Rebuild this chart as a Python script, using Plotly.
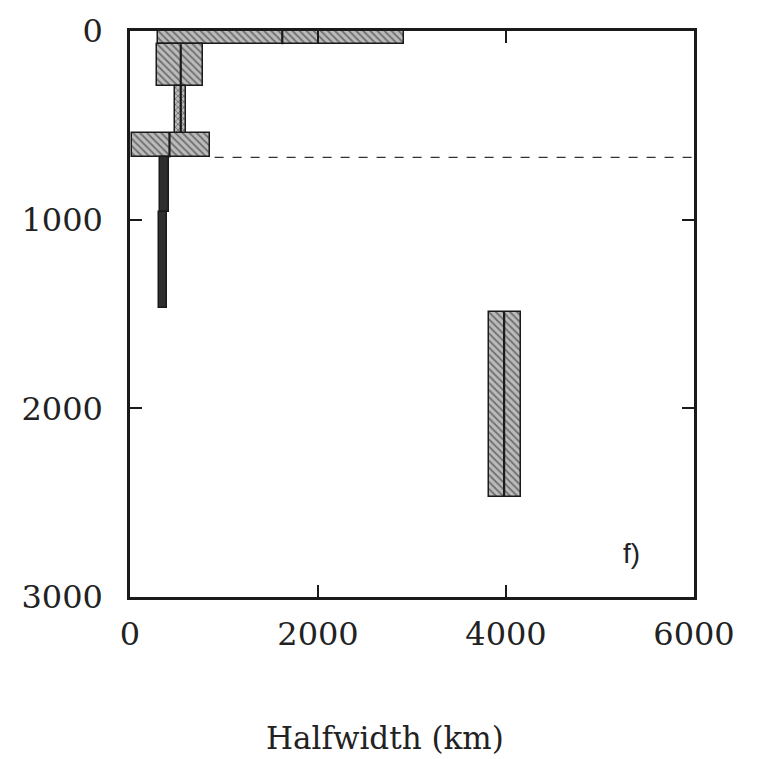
import plotly.graph_objects as go

# Depth layers (km) and the halfwidth estimate with its bounds (km)
layer_top = [0, 70, 290, 540, 670, 960, 1490]
layer_bottom = [70, 290, 540, 670, 960, 1470, 2470]
halfwidth = [1620, 540, 540, 420, 370, 350, 3980]
hw_low = [300, 290, 480, 20, 320, 310, 3820]
hw_high = [2910, 780, 600, 850, 420, 390, 4160]
fill_style = ["hatch", "hatch", "dots", "hatch", "solid", "solid", "hatch"]

transition_depth = 670
transition_start = 900

x_ticks = [0, 2000, 4000, 6000]
y_ticks = [0, 1000, 2000, 3000]

SERIF = "DejaVu Serif"

fig = go.Figure()

styles = {
    "hatch": dict(color="#bcbcbc", pattern=dict(shape="\\", fgcolor="#252525", bgcolor="#bcbcbc",
                                                 size=5, solidity=0.38, fillmode="overlay")),
    "dots": dict(color="#bcbcbc", pattern=dict(shape="x", fgcolor="#252525", bgcolor="#bcbcbc",
                                                size=4, solidity=0.4, fillmode="overlay")),
    "solid": dict(color="#2e2e2e"),
}

for style, spec in styles.items():
    idx = [i for i, s in enumerate(fill_style) if s == style]
    if not idx:
        continue
    fig.add_trace(go.Bar(
        orientation="h",
        y=[(layer_top[i] + layer_bottom[i]) / 2 for i in idx],
        x=[hw_high[i] - hw_low[i] for i in idx],
        base=[hw_low[i] for i in idx],
        width=[layer_bottom[i] - layer_top[i] for i in idx],
        marker=dict(line=dict(color="#1a1a1a", width=1.5), **spec),
        showlegend=False,
        hoverinfo="skip",
    ))

# Central estimate of each layer
cx, cy = [], []
for i, s in enumerate(fill_style):
    if s == "solid":
        continue
    cx += [halfwidth[i], halfwidth[i], None]
    cy += [layer_top[i], layer_bottom[i], None]
fig.add_trace(go.Scatter(x=cx, y=cy, mode="lines", line=dict(color="#1a1a1a", width=2.2),
                         showlegend=False, hoverinfo="skip"))

# Transition-zone marker
fig.add_trace(go.Scatter(x=[transition_start, 6000], y=[transition_depth, transition_depth],
                         mode="lines", line=dict(color="#333", width=1.2, dash="dash"),
                         showlegend=False, hoverinfo="skip"))

fig.add_annotation(x=5330, y=2770, text="f)", showarrow=False,
                   font=dict(family="Liberation Sans", size=28, color="#222"))

# Axis title
fig.add_annotation(xref="paper", yref="paper", x=0.452, y=-0.249, text="Halfwidth (km)",
                   showarrow=False, xanchor="center", yanchor="middle",
                   font=dict(family=SERIF, size=31, color="#222"))

axis_common = dict(showline=True, linecolor="#1a1a1a", linewidth=2.5, mirror="ticks",
                   ticks="inside", ticklen=12, tickwidth=1.5, tickcolor="#1a1a1a",
                   showgrid=False, zeroline=False,
                   tickfont=dict(family=SERIF, size=32, color="#222"))

fig.update_layout(
    width=762, height=759,
    margin=dict(l=130, r=68, t=23, b=162),
    paper_bgcolor="white", plot_bgcolor="white",
    barmode="overlay", bargap=0,
    xaxis=dict(range=[0, 6000], tickvals=x_ticks, ticktext=[str(v) for v in x_ticks],
               ticklabelstandoff=7, **axis_common),
    yaxis=dict(range=[3000, 0], tickvals=y_ticks, ticktext=[str(v) for v in y_ticks],
               ticklabelstandoff=18, **axis_common),
)

fig.write_html("out.html")
